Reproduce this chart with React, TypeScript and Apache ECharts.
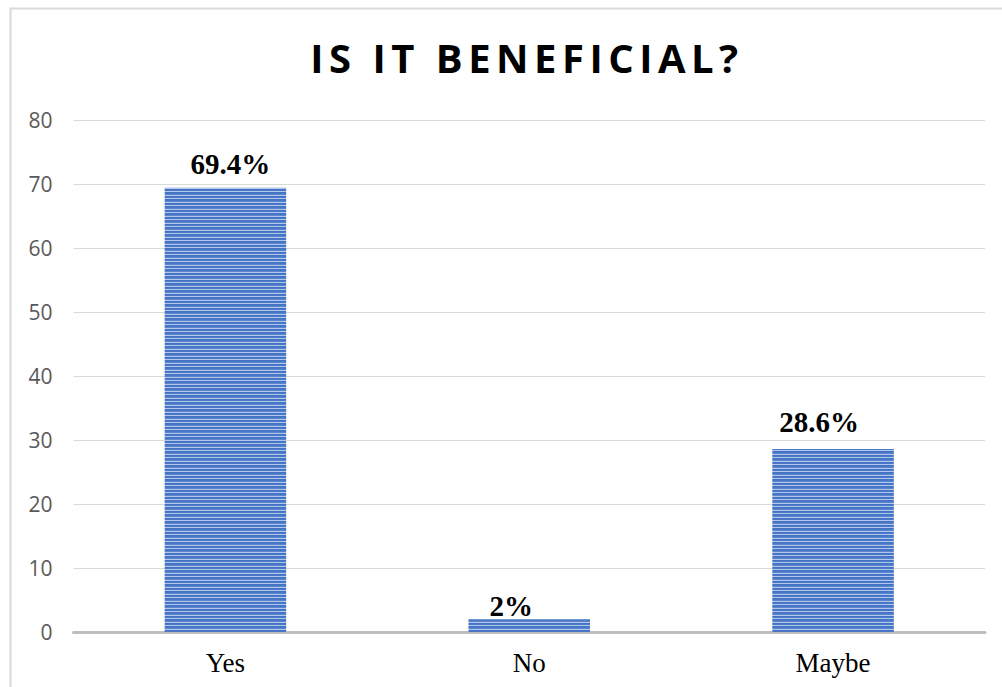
import React, { useEffect, useRef } from "react";
import * as echarts from "echarts";

const TITLE = "IS IT BENEFICIAL?";
const categories = ["Yes", "No", "Maybe"];
const values = [69.4, 2, 28.6];
const valueLabels = ["69.4%", "2%", "28.6%"];
const yTicks = { min: 0, max: 80, interval: 10 };
// manual label nudges (as placed in the original chart), in pixels
const labelNudges: [number, number][] = [
  [5, -3],
  [-18, 7],
  [-14, -6],
];

function makeStripe(): HTMLCanvasElement {
  const c = document.createElement("canvas");
  c.width = 4;
  c.height = 7;
  const ctx = c.getContext("2d")!;
  const rows = ["#4472c4", "#4a78c8", "#b4c7ea", "#4472c4", "#4a78c8", "#5a84cc", "#b4c7ea"];
  rows.forEach((col, i) => {
    ctx.fillStyle = col;
    ctx.fillRect(0, i, 4, 1);
  });
  return c;
}

export default function App() {
  const ref = useRef<HTMLDivElement>(null);
  useEffect(() => {
    document.body.style.margin = "0";
    const chart = echarts.init(ref.current!, undefined, { renderer: "svg" });
    const pattern = { image: makeStripe(), repeat: "repeat" };
    chart.setOption({
      animation: false,
      backgroundColor: "#ffffff",
      graphic: [
        {
          type: "rect",
          shape: { x: 10.5, y: 8.5, width: 1010, height: 700 },
          style: { fill: "none", stroke: "#d9d9d9", lineWidth: 2 },
          silent: true,
        },
        {
          type: "text",
          x: 527,
          y: 57,
          style: {
            text: TITLE,
            fill: "#000000",
            font: 'bold 40px "Open Sans"',
            align: "center",
            verticalAlign: "middle",
          },
        },
      ],
      grid: { left: 73.5, right: 17, top: 120, bottom: 55, containLabel: false },
      xAxis: {
        type: "category",
        data: categories,
        axisLine: { lineStyle: { color: "#bfbfbf", width: 3 } },
        axisTick: { show: false },
        axisLabel: {
          color: "#000000",
          fontFamily: '"Liberation Serif"',
          fontSize: 27,
          margin: 17,
        },
      },
      yAxis: {
        type: "value",
        min: yTicks.min,
        max: yTicks.max,
        interval: yTicks.interval,
        axisLine: { show: false },
        axisTick: { show: false },
        splitLine: { lineStyle: { color: "#d9d9d9", width: 1 } },
        axisLabel: {
          color: "#595959",
          fontFamily: '"Open Sans"',
          fontSize: 21,
          margin: 21,
        },
      },
      series: [
        {
          type: "bar",
          data: values.map((v, i) => ({
            value: v,
            label: { offset: labelNudges[i] },
          })),
          barWidth: "40%",
          itemStyle: { color: pattern },
          label: {
            show: true,
            position: "top",
            distance: 6,
            color: "#000000",
            fontFamily: '"Liberation Serif"',
            fontWeight: "bold",
            fontSize: 29,
            formatter: (p: any) => valueLabels[p.dataIndex],
          },
        },
      ],
    });
    const svg = ref.current!.querySelectorAll("text");
    svg.forEach((t) => {
      if (t.textContent === TITLE) {
        (t as SVGTextElement).style.letterSpacing = "5.5px";
      }
    });
    return () => chart.dispose();
  }, []);
  return (
    <div
      ref={ref}
      style={{ position: "absolute", left: 0, top: 0, width: 1002, height: 687 }}
    />
  );
}
